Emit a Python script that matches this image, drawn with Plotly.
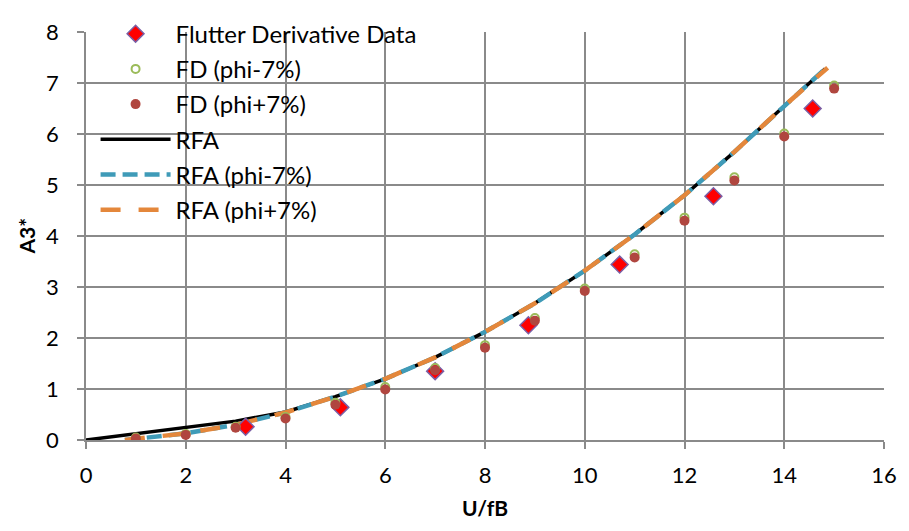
import plotly.graph_objects as go

# Flutter derivative data
fd_x = [3.2, 5.1, 7.0, 8.87, 10.7, 12.58, 14.57]
fd_y = [0.26, 0.64, 1.35, 2.25, 3.44, 4.78, 6.50]

# FD perturbed frequency
fdp_x = [1, 2, 3, 4, 5, 6, 7, 8, 9, 10, 11, 12, 13, 14, 15]
fd_minus_y = [0.05, 0.12, 0.26, 0.45, 0.73, 1.04, 1.41, 1.86, 2.39, 2.97, 3.64, 4.36, 5.15, 6.01, 6.95]
fd_plus_y = [0.03, 0.10, 0.24, 0.42, 0.69, 0.99, 1.37, 1.81, 2.34, 2.92, 3.58, 4.30, 5.09, 5.95, 6.89]

# RFA curves
rfa_x = [0, 1, 2, 3, 4, 5, 6, 7, 8, 9, 10, 11, 12, 13, 14, 14.82]
rfa_y = [0, 0.12, 0.24, 0.37, 0.55, 0.85, 1.2, 1.62, 2.12, 2.68, 3.32, 4.03, 4.8, 5.65, 6.55, 7.28]
rfam_x = [0.78, 1, 2, 3, 4, 5, 6, 7, 8, 9, 10, 11, 12, 13, 14, 14.82]
rfam_y = [0, 0.02, 0.13, 0.3, 0.54, 0.85, 1.2, 1.62, 2.12, 2.68, 3.32, 4.03, 4.8, 5.65, 6.55, 7.28]
rfap_x = [0.78, 1, 2, 3, 4, 5, 6, 7, 8, 9, 10, 11, 12, 13, 14, 14.87]
rfap_y = [0, 0.02, 0.13, 0.3, 0.54, 0.85, 1.2, 1.62, 2.12, 2.68, 3.32, 4.03, 4.8, 5.65, 6.55, 7.3]

FONT = "Lato"
GRID = "#8a8a8a"

fig = go.Figure()
fig.add_trace(go.Scatter(x=rfa_x, y=rfa_y, mode="lines", name="RFA",
                         line=dict(color="black", width=3.5), legendrank=4, legendgroup="d"))
fig.add_trace(go.Scatter(x=rfam_x, y=rfam_y, mode="lines", name="RFA (phi-7%)",
                         line=dict(color="#3f9bb8", width=4.5, dash="15px,7px"), legendrank=5, legendgroup="e"))
fig.add_trace(go.Scatter(x=rfap_x, y=rfap_y, mode="lines", name="RFA (phi+7%)",
                         line=dict(color="#e4873b", width=4.5, dash="20px,18px"), legendrank=6, legendgroup="f"))
fig.add_trace(go.Scatter(x=fd_x, y=fd_y, mode="markers", name="Flutter Derivative Data",
                         marker=dict(symbol="diamond", size=13, color="#ff0000",
                                     line=dict(color="#7b5fa5", width=1.5)), legendrank=1, legendgroup="a"))
fig.add_trace(go.Scatter(x=fdp_x, y=fd_minus_y, mode="markers", name="FD (phi-7%)",
                         marker=dict(symbol="circle-open", size=8, color="#9bbb59",
                                     line=dict(width=2)), legendrank=2, legendgroup="b"))
fig.add_trace(go.Scatter(x=fdp_x, y=fd_plus_y, mode="markers", name="FD (phi+7%)",
                         marker=dict(symbol="circle", size=10, color="#b0463f"), legendrank=3, legendgroup="c"))

fig.update_layout(
    width=909, height=531,
    margin=dict(l=86, r=17, t=17, b=91),
    plot_bgcolor="white", paper_bgcolor="white",
    font=dict(family=FONT, size=22, color="black"),
    legend=dict(x=0.012, y=1.05, xanchor="left", yanchor="top",
                bgcolor="rgba(0,0,0,0)", font=dict(size=24, family=FONT),
                traceorder="grouped", tracegroupgap=1, itemwidth=70),
    xaxis=dict(range=[0, 16], dtick=2, tick0=0, showgrid=True, gridcolor=GRID, gridwidth=1.5,
               showline=True, linecolor=GRID, linewidth=1.5, ticks="outside", ticklen=7,
               tickcolor=GRID, tickwidth=1.5, zeroline=False, ticklabelstandoff=8,
               title=dict(text="<b>U/fB</b>", font=dict(size=21, family=FONT), standoff=14)),
    yaxis=dict(range=[0, 8], dtick=1, tick0=0, showgrid=True, gridcolor=GRID, gridwidth=1.5,
               showline=True, linecolor=GRID, linewidth=1.5, ticks="outside", ticklen=7,
               tickcolor=GRID, tickwidth=1.5, zeroline=False, ticklabelstandoff=14),
    annotations=[dict(text="<b>A3*</b>", xref="paper", yref="paper",
                      x=-61 / 806, y=0.5, textangle=-90, showarrow=False,
                      font=dict(size=21, family=FONT), xanchor="center", yanchor="middle")],
    showlegend=True,
)

fig.write_html("out.html")
